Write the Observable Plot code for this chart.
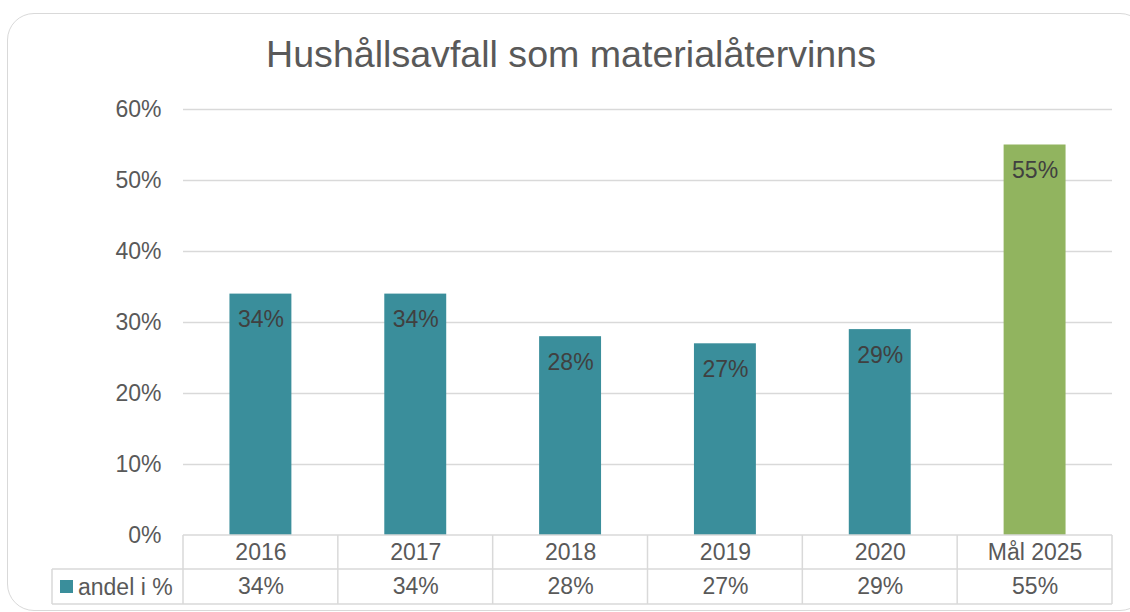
<!DOCTYPE html>
<html><head><meta charset="utf-8">
<script src="https://cdn.jsdelivr.net/npm/d3@7"></script>
<script src="https://cdn.jsdelivr.net/npm/@observablehq/plot@0.6"></script>
<style>
body{margin:0;background:#fff;font-family:"Liberation Sans",Arial,sans-serif;}
#wrap{position:relative;width:1130px;height:612px;overflow:hidden;}
#box{position:absolute;left:7px;top:13px;width:1140px;height:598px;border:1.5px solid #d9d9d9;border-radius:27px;box-sizing:border-box;}
#title{position:relative;height:80px;box-sizing:border-box;padding-top:36px;font-size:37.6px;line-height:37.6px;color:#595959;text-align:center;padding-left:12px;white-space:nowrap;}
#chart{position:relative;}
</style></head><body>
<div id="wrap"><div id="box"></div><div id="title">Hushållsavfall som materialåtervinns</div><div id="chart"></div></div>
<script>
const categories = ["2016", "2017", "2018", "2019", "2020", "Mål 2025"];
const values = [0.34, 0.34, 0.28, 0.27, 0.29, 0.55];
const isTarget = [false, false, false, false, false, true];
const seriesName = "andel i %";
const yTicks = [0, 0.1, 0.2, 0.3, 0.4, 0.5, 0.6];

const teal = "#3a8e9b", green = "#91b45f";
const grid = "#d9d9d9", textColor = "#595959", labelColor = "#404040";
const fmt = d => Math.round(d * 100) + "%";

const data = categories.map((c, i) => ({cat: c, value: values[i], target: isTarget[i]}));

const W = 1130, H = 532, mL = 183, mR = 18, mT = 29, mB = 77;
const step = (W - mL - mR) / categories.length;
const inset = step * 0.3;

const plot = Plot.plot({
  width: W, height: H,
  marginLeft: mL, marginRight: mR, marginTop: mT, marginBottom: mB,
  style: {fontFamily: '"Liberation Sans", Arial, sans-serif', fontSize: "23px", color: textColor, background: "transparent", overflow: "visible"},
  x: {domain: categories, padding: 0, round: false, axis: null},
  y: {domain: [0, 0.6], ticks: yTicks, tickFormat: fmt, tickSize: 0, tickPadding: 22, label: null},
  color: {domain: [false, true], range: [teal, green]},
  marks: [
    Plot.ruleY(yTicks.slice(1), {stroke: grid, strokeWidth: 1.5}),
    Plot.barY(data, {x: "cat", y: "value", fill: "target", insetLeft: inset, insetRight: inset}),
    Plot.text(data, {x: "cat", y: "value", text: d => fmt(d.value), dy: 26, fill: labelColor, fontSize: 23}),
    Plot.text(data, {x: "cat", y: d => 0, text: "cat", dy: 17, fill: textColor, fontSize: 23}),
    Plot.text(data, {x: "cat", y: d => 0, text: d => fmt(d.value), dy: 51.5, fill: textColor, fontSize: 23})
  ]
});

// data table grid below the plot, positioned from Plot's scales
const xs = plot.scale("x"), ys = plot.scale("y");
const y0 = ys.apply(0), r1 = y0 + 34, r2 = y0 + 69;
const bounds = categories.map(c => xs.apply(c));
bounds.push(bounds[bounds.length - 1] + xs.bandwidth);
const xL = bounds[0], xR = bounds[bounds.length - 1], legL = 52;
const svg = d3.select(plot);
const g = svg.append("g").attr("stroke", grid).attr("stroke-width", 1.5).attr("fill", "none");
g.append("line").attr("x1", xL).attr("x2", xR).attr("y1", y0).attr("y2", y0);
g.append("line").attr("x1", legL).attr("x2", xR).attr("y1", r1).attr("y2", r1);
g.append("line").attr("x1", legL).attr("x2", xR).attr("y1", r2).attr("y2", r2);
g.append("line").attr("x1", legL).attr("x2", legL).attr("y1", r1).attr("y2", r2);
bounds.forEach(b => g.append("line").attr("x1", b).attr("x2", b).attr("y1", y0).attr("y2", r2));
svg.append("rect").attr("x", 60).attr("y", (r1 + r2) / 2 - 6.5).attr("width", 13).attr("height", 13).attr("fill", teal);
svg.append("text").attr("x", 78).attr("y", (r1 + r2) / 2).attr("dy", "0.35em")
  .attr("text-anchor", "start").attr("fill", textColor).attr("font-size", 23).text(seriesName);

document.getElementById("chart").appendChild(plot);
</script>
</body></html>
